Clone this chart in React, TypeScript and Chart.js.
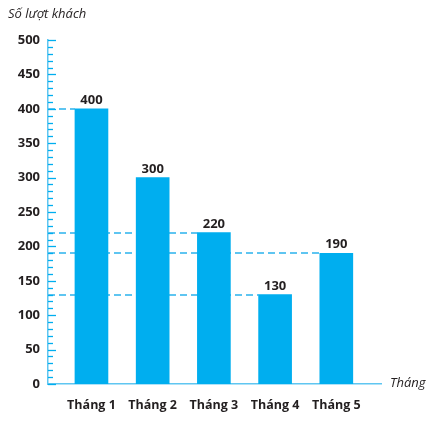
import React, { useEffect, useRef } from "react";
import { Chart, registerables } from "chart.js";

Chart.register(...registerables);

const CATEGORIES = ["Tháng 1", "Tháng 2", "Tháng 3", "Tháng 4", "Tháng 5"];
const VISITORS = [400, 300, 220, 130, 190];
const GUIDE_VALUES = [400, 220, 190, 130];
const GUIDE_TO_BAR = [0, 2, 4, 3];
const Y_TITLE = "Số lượt khách";
const X_TITLE = "Tháng";

const BAR = "#00aeef";
const AXIS = "#5fc6f1";
const DASH = "#5ec5f1";
const TEXT = "#231f20";
const FONT = "'Open Sans', 'Noto Sans', sans-serif";

const decorPlugin = {
  id: "decor",
  beforeDatasetsDraw(chart: any) {
    const ctx = chart.ctx;
    const y = chart.scales.y;
    const x = chart.scales.x;
    const meta = chart.getDatasetMeta(0);
    ctx.save();
    ctx.strokeStyle = DASH;
    ctx.lineWidth = 1.8;
    ctx.setLineDash([7, 4]);
    GUIDE_VALUES.forEach((v, i) => {
      const bar = meta.data[GUIDE_TO_BAR[i]] as any;
      const py = Math.round(y.getPixelForValue(v));
      const left = bar.x - bar.width / 2;
      ctx.beginPath();
      ctx.moveTo(x.left, py);
      ctx.lineTo(left, py);
      ctx.stroke();
    });
    ctx.restore();
  },
  afterDatasetsDraw(chart: any) {
    const ctx = chart.ctx;
    const y = chart.scales.y;
    const x = chart.scales.x;
    const meta = chart.getDatasetMeta(0);
    ctx.save();
    // inner ticks
    ctx.strokeStyle = BAR;
    ctx.lineWidth = 1.3;
    for (let v = 0; v <= 500; v += 10) {
      const py = Math.round(y.getPixelForValue(v)) + 0.5;
      const len = v % 50 === 0 ? 8 : 5;
      ctx.beginPath();
      ctx.moveTo(x.left, py);
      ctx.lineTo(x.left + len, py);
      ctx.stroke();
    }
    // value labels
    ctx.fillStyle = TEXT;
    ctx.font = `bold 13px ${FONT}`;
    ctx.textAlign = "center";
    ctx.textBaseline = "alphabetic";
    meta.data.forEach((bar: any, i: number) => {
      ctx.fillText(String(VISITORS[i]), bar.x, bar.y - 5);
    });
    // titles
    ctx.font = `italic 13px ${FONT}`;
    ctx.textAlign = "left";
    ctx.textBaseline = "middle";
    ctx.fillText(Y_TITLE, 8, 14);
    ctx.fillText(X_TITLE, x.right + 9, y.bottom - 1);
    ctx.restore();
  },
};

export default function App() {
  const ref = useRef<HTMLCanvasElement>(null);
  useEffect(() => {
    document.body.style.margin = "0";
    const chart = new Chart(ref.current!, {
      type: "bar",
      data: {
        datasets: [
          {
            data: VISITORS.map((v, i) => ({ x: i, y: v })),
            backgroundColor: BAR,
            barThickness: 33,
          },
        ],
      },
      options: {
        animation: false,
        responsive: true,
        maintainAspectRatio: false,
        layout: { padding: { left: 0, right: 49, top: 40, bottom: 0 } },
        plugins: { legend: { display: false }, tooltip: { enabled: false } },
        scales: {
          x: {
            type: "linear",
            offset: false,
            min: -0.71,
            max: 4.73,
            afterBuildTicks: (scale: any) => {
              scale.ticks = CATEGORIES.map((_, i) => ({ value: i }));
            },
            afterFit: (scale: any) => {
              scale.height = 423 - 384;
            },
            grid: { display: false, drawTicks: false },
            border: { display: true, color: AXIS, width: 1.5 },
            ticks: {
              autoSkip: false,
              maxRotation: 0,
              padding: 14,
              color: TEXT,
              font: { family: FONT, size: 12.5, weight: "bold" },
              callback: (v: any) => CATEGORIES[v] ?? "",
            },
          },
          y: {
            min: 0,
            max: 500,
            afterFit: (scale: any) => {
              scale.width = 48;
            },
            afterBuildTicks: (scale: any) => {
              const t = [];
              for (let v = 0; v <= 500; v += 50) t.push({ value: v });
              scale.ticks = t;
            },
            grid: { display: false, drawTicks: false },
            border: { display: true, color: AXIS, width: 1.5 },
            ticks: {
              padding: 8,
              color: TEXT,
              font: { family: FONT, size: 13, weight: "bold" },
            },
          },
        },
      },
      plugins: [decorPlugin],
    });
    return () => chart.destroy();
  }, []);
  return (
    <div style={{ position: "fixed", left: 0, top: 0, width: 430, height: 423 }}>
      <canvas ref={ref} />
    </div>
  );
}
